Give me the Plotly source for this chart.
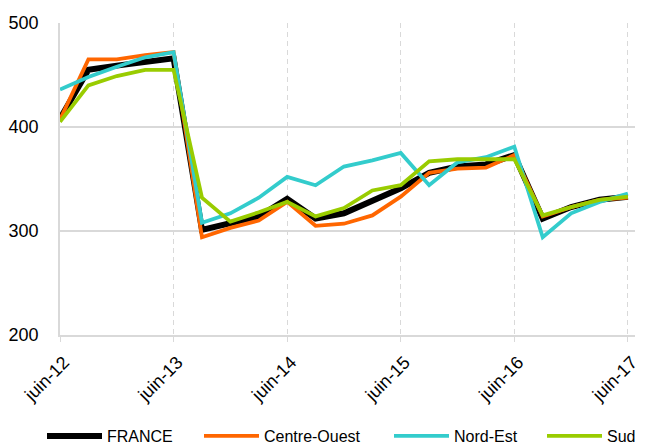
import plotly.graph_objects as go

quarters = list(range(21))
tick_positions = [0, 4, 8, 12, 16, 20]
tick_labels = ["juin-12", "juin-13", "juin-14", "juin-15", "juin-16", "juin-17"]

france = [408, 455, 459, 463, 466, 301, 307, 314, 331, 312, 317, 329, 341, 356, 362, 364, 373, 312, 323, 330, 333]
centre_ouest = [407, 465, 465, 469, 472, 294, 303, 310, 328, 305, 307, 315, 333, 356, 360, 361, 373, 314, 323, 330, 332]
nord_est = [436, 448, 458, 467, 472, 308, 317, 332, 352, 344, 362, 368, 375, 344, 366, 371, 381, 294, 317, 328, 336]
sud = [405, 440, 449, 455, 455, 332, 309, 318, 328, 314, 322, 339, 344, 367, 369, 369, 369, 315, 323, 330, 333]

series = [
    ("FRANCE", france, "#000000", 6, "legend"),
    ("Centre-Ouest", centre_ouest, "#FF6600", 3.8, "legend2"),
    ("Nord-Est", nord_est, "#33CCCC", 3.8, "legend3"),
    ("Sud", sud, "#99CC00", 3.8, "legend4"),
]
legend_sym_px = [48, 205, 395, 548]  # page x where each legend line starts

fig = go.Figure()
for name, vals, color, w, lg in series:
    fig.add_trace(go.Scatter(x=quarters, y=vals, name=name, mode="lines",
                             line=dict(color=color, width=w), legend=lg))

OFF = 8  # default page body margin
W, H = 647 - OFF, 445 - OFF
L, R, T, B = 60 - OFF, 12, 23 - OFF, 110
pw = W - L - R
ph = H - T - B
ly = -((436 - OFF) - (H - B)) / ph

legends = {}
for (name, _, _, _, lg), xp in zip(series, legend_sym_px):
    legends[lg] = dict(orientation="h", x=(xp - OFF - 6 - L) / pw, xanchor="left",
                       y=ly, yanchor="middle", font=dict(size=16),
                       itemwidth=55, bgcolor="rgba(0,0,0,0)")

grid = "#d9d9d9"
fig.update_layout(
    width=W, height=H,
    margin=dict(l=L, r=R, t=T, b=B, autoexpand=False),
    paper_bgcolor="white", plot_bgcolor="white",
    font=dict(family="Liberation Sans, Arial, sans-serif", color="#000000"),
    showlegend=True,
    xaxis=dict(range=[0, 20.25], tickvals=tick_positions, ticktext=tick_labels,
               tickangle=-45, tickfont=dict(size=18), automargin=False,
               ticklabelstandoff=3, ticklabelshift=4,
               showgrid=True, gridcolor=grid, gridwidth=1.3, griddash="5px,4px",
               showline=True, linecolor=grid, linewidth=1.5,
               ticks="outside", ticklen=5, tickcolor=grid, zeroline=False),
    yaxis=dict(range=[200, 500], tickvals=[200, 300, 400, 500], tickfont=dict(size=18),
               automargin=False,
               showgrid=True, gridcolor=grid, gridwidth=1.5,
               showline=True, linecolor=grid, linewidth=1.5,
               ticks="", ticklabelstandoff=16, zeroline=False),
    **legends,
)

fig.write_html("out.html")
